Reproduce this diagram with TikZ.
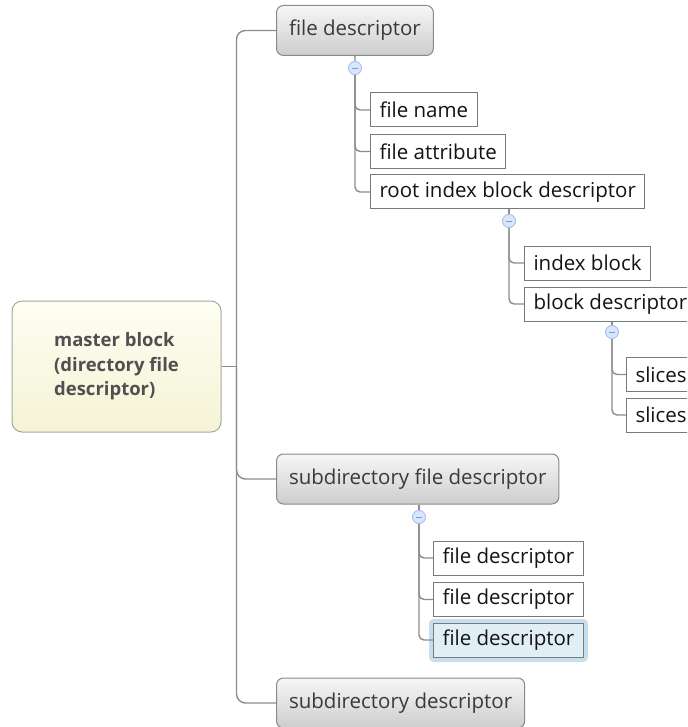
\documentclass[tikz,border=0pt]{standalone}
\usepackage{fontspec}
\setmainfont{Open Sans}
\definecolor{linegray}{HTML}{8C8C8C}
\definecolor{topicborder}{HTML}{8A8A8A}
\definecolor{topictop}{HTML}{F6F6F6}
\definecolor{topicbottom}{HTML}{CDCDCD}
\definecolor{topictext}{HTML}{3A3A3A}
\definecolor{leafborder}{HTML}{7A7A7A}
\definecolor{leaftext}{HTML}{141414}
\definecolor{rootborder}{HTML}{A6A6A0}
\definecolor{roottop}{HTML}{FEFEF3}
\definecolor{rootbottom}{HTML}{F5F3D5}
\definecolor{roottext}{HTML}{505050}
\definecolor{togfill}{HTML}{D8E5FA}
\definecolor{togborder}{HTML}{A8C2EE}
\definecolor{togminus}{HTML}{7C9AD6}
\definecolor{selfill}{HTML}{E2EEF6}
\definecolor{selglow}{HTML}{C6DEEE}
\begin{document}
\begin{tikzpicture}[x=1pt,y=-1pt,
  conn/.style={draw=linegray, line width=1.4pt},
  branch/.style={conn, rounded corners=9pt},
  twig/.style={conn, rounded corners=5pt},
  rootbox/.style={draw=rootborder, line width=1pt, rounded corners=10pt,
    top color=roottop, bottom color=rootbottom,
    minimum width=209pt, minimum height=131pt, align=left, text=roottext,
    font=\bfseries\fontsize{18.5}{24.5}\selectfont},
  topic/.style={draw=topicborder, line width=1pt, rounded corners=7pt,
    top color=topictop, bottom color=topicbottom,
    minimum height=50pt, inner xsep=12.5pt, anchor=west, text=topictext,
    font=\fontsize{20.5}{24}\selectfont},
  leaf/.style={draw=leafborder, line width=1pt, fill=white,
    minimum height=34pt, inner xsep=9pt, anchor=west, text=leaftext,
    font=\fontsize{20.5}{24}\selectfont},
  selected/.style={fill=selfill,
    preaction={draw=selglow, line width=9pt, line join=round}},
  toggle/.style={circle, draw=togborder, line width=0.8pt, fill=togfill,
    minimum size=13pt, inner sep=0pt,
    path picture={\draw[togminus, line width=0.9pt]
      ([xshift=-3pt]path picture bounding box.center) --
      ([xshift=3pt]path picture bounding box.center);}},
]
\useasboundingbox (0,0) rectangle (687,727);
\clip (0,0) rectangle (687,727);

% central topic
\node[rootbox] (master) at (116.5,366.5) {master block\\(directory file\\descriptor)};
\coordinate (trunk) at (236.5,366.5);

% main topics
\node[topic] (fd)   at (276,30.5)  {file descriptor};
\node[topic] (sfd)  at (276,479)   {subdirectory file descriptor};
\node[topic] (sd)   at (276,703)   {subdirectory descriptor};

% file descriptor subtree
\node[toggle] (t1) at (355,68) {};
\node[leaf] (fname) at (370,110)   {file name};
\node[leaf] (fattr) at (370,151.5) {file attribute};
\node[leaf] (ribd)  at (370,192)   {root index block descriptor};

\node[toggle] (t2) at (509,221) {};
\node[leaf] (iblk)  at (524,263) {index block};
\node[leaf] (bdesc) at (524,304) {block descriptor};

\node[toggle] (t3) at (612,332) {};
\node[leaf] (sl1) at (626,374.5) {slices};
\node[leaf] (sl2) at (626,415)   {slices};

% subdirectory file descriptor subtree
\node[toggle] (t4) at (419,517) {};
\node[leaf] (c1) at (433,558)   {file descriptor};
\node[leaf] (c2) at (433,599.5) {file descriptor};
\node[leaf, selected] (c3) at (433,640) {file descriptor};

% connectors
\draw[conn] (master.east) -- (trunk);
\draw[branch] (trunk) |- (fd.west);
\draw[branch] (trunk) |- (sfd.west);
\draw[branch] (trunk) |- (sd.west);

\draw[conn] (fd.south) -- (t1.north);
\draw[twig] (t1.south) |- (fname.west);
\draw[twig] (t1.south) |- (fattr.west);
\draw[twig] (t1.south) |- (ribd.west);

\draw[conn] (ribd.south -| t2) -- (t2.north);
\draw[twig] (t2.south) |- (iblk.west);
\draw[twig] (t2.south) |- (bdesc.west);

\draw[conn] (bdesc.south -| t3) -- (t3.north);
\draw[twig] (t3.south) |- (sl1.west);
\draw[twig] (t3.south) |- (sl2.west);

\draw[conn] (sfd.south -| t4) -- (t4.north);
\draw[twig] (t4.south) |- (c1.west);
\draw[twig] (t4.south) |- (c2.west);
\draw[twig] (t4.south) |- (c3.west);

% toggles drawn again on top of the connectors
\foreach \t in {t1,t2,t3,t4}
  \node[toggle] at (\t) {};
\end{tikzpicture}
\end{document}
